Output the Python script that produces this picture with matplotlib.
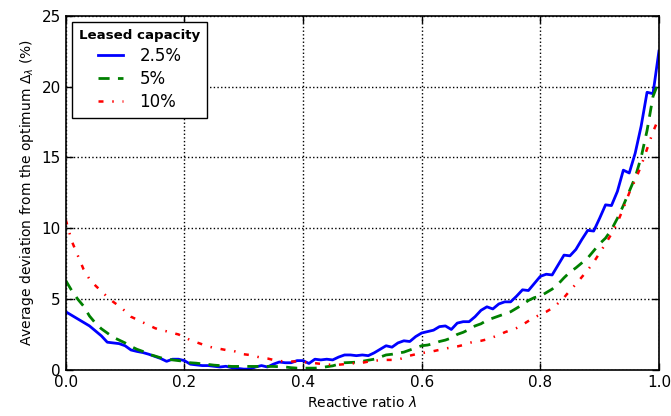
import numpy as np
import matplotlib
matplotlib.use('Agg')
import matplotlib.pyplot as plt

# reactive ratio, sampled every 0.01
ratio = np.linspace(0.0, 1.0, 101)

# average deviation from the optimum (%) per leased capacity
dev_2_5 = [4.1, 3.85, 3.6, 3.35, 3.1, 2.75, 2.4, 1.95, 1.9, 1.85,
           1.7, 1.4, 1.3, 1.22, 1.1, 0.95, 0.8, 0.6, 0.75, 0.75,
           0.65, 0.4, 0.35, 0.3, 0.3, 0.25, 0.2, 0.25, 0.15, 0.1,
           0.05, 0.05, 0.2, 0.3, 0.2, 0.4, 0.55, 0.5, 0.5, 0.65,
           0.65, 0.45, 0.75, 0.7, 0.75, 0.7, 0.9, 1.05, 1.05, 1.0,
           1.05, 1.0, 1.2, 1.45, 1.7, 1.6, 1.9, 2.05, 2.0, 2.35,
           2.6, 2.7, 2.8, 3.05, 3.1, 2.85, 3.3, 3.4, 3.4, 3.75,
           4.2, 4.45, 4.3, 4.65, 4.8, 4.8, 5.2, 5.65, 5.6, 6.1,
           6.6, 6.75, 6.7, 7.4, 8.1, 8.05, 8.5, 9.2, 9.85, 9.8,
           10.7, 11.65, 11.6, 12.6, 14.1, 13.9, 15.3, 17.2, 19.6, 19.5,
           22.5]
dev_5 = [6.3, 5.6, 5.0, 4.5, 3.8, 3.3, 2.9, 2.6, 2.3, 2.1,
         1.9, 1.65, 1.45, 1.3, 1.1, 0.98, 0.85, 0.75, 0.7, 0.65,
         0.6, 0.5, 0.47, 0.42, 0.38, 0.33, 0.3, 0.27, 0.24, 0.24,
         0.24, 0.24, 0.24, 0.24, 0.24, 0.24, 0.22, 0.2, 0.15, 0.12,
         0.12, 0.12, 0.12, 0.15, 0.22, 0.28, 0.4, 0.5, 0.52, 0.54,
         0.6, 0.68, 0.75, 0.9, 1.05, 1.1, 1.18, 1.25, 1.4, 1.55,
         1.7, 1.75, 1.85, 2.0, 2.1, 2.25, 2.5, 2.65, 2.85, 3.1,
         3.25, 3.5, 3.65, 3.8, 3.95, 4.1, 4.35, 4.6, 4.9, 5.1,
         5.2, 5.45, 5.7, 6.05, 6.5, 6.9, 7.2, 7.55, 7.9, 8.4,
         8.9, 9.3, 9.9, 10.7, 11.6, 12.6, 13.6, 15.0, 16.9, 19.3,
         20.4]
dev_10 = [10.6, 9.1, 8.1, 7.1, 6.4, 5.95, 5.55, 5.15, 4.8, 4.5,
          4.15, 3.75, 3.55, 3.35, 3.15, 2.95, 2.8, 2.72, 2.6, 2.5,
          2.3, 2.1, 1.95, 1.8, 1.65, 1.55, 1.48, 1.4, 1.36, 1.25,
          1.1, 1.05, 0.95, 0.85, 0.8, 0.7, 0.62, 0.6, 0.59, 0.59,
          0.55, 0.5, 0.47, 0.42, 0.38, 0.35, 0.36, 0.4, 0.45, 0.47,
          0.5, 0.58, 0.64, 0.68, 0.7, 0.7, 0.72, 0.85, 1.0, 1.1,
          1.18, 1.25, 1.32, 1.41, 1.5, 1.58, 1.65, 1.75, 1.9, 2.0,
          2.05, 2.15, 2.3, 2.45, 2.65, 2.8, 2.95, 3.18, 3.45, 3.7,
          3.9, 4.1, 4.35, 4.7, 5.1, 5.6, 6.05, 6.55, 7.05, 7.6,
          8.25, 8.9, 9.6, 10.4, 11.4, 12.5, 13.4, 14.4, 15.6, 16.8,
          17.8]

labels = ['2.5%', '5%', '10%']

fig = plt.figure(figsize=(6.71, 4.16), dpi=100)
ax = fig.add_axes([0.098, 0.111, 0.884, 0.851])

ax.plot(ratio, dev_2_5, color='b', lw=2, ls='-', label=labels[0])
ax.plot(ratio, dev_5, color='g', lw=2, ls='--', dashes=(4, 3), label=labels[1])
ax.plot(ratio, dev_10, color='r', lw=1.8, ls='-.', dashes=(2, 3.5, 0.6, 3.5), label=labels[2])

ax.set_xlim(0, 1)
ax.set_ylim(0, 25)
ax.set_xticks([0.0, 0.2, 0.4, 0.6, 0.8, 1.0])
ax.set_yticks([0, 5, 10, 15, 20, 25])

ax.grid(True, color='k', ls=':', lw=1)
ax.tick_params(direction='in', top=True, right=True, length=5, width=1, labelsize=11)
for sp in ax.spines.values():
    sp.set_linewidth(1.2)

ax.set_xlabel(r'Reactive ratio $\lambda$', fontsize=10)
ax.set_ylabel(r'Average deviation from the optimum $\Delta_\lambda$ (%)', fontsize=10)

leg = ax.legend(loc='upper left', title='Leased capacity', fontsize=12,
                handlelength=1.5, handletextpad=1.0, labelspacing=0.3,
                fancybox=False, framealpha=1, edgecolor='k',
                borderaxespad=0.4, borderpad=0.4)
leg.get_title().set_fontweight('bold')
leg.get_title().set_fontsize(9.6)
leg.get_frame().set_linewidth(1)

fig.savefig('out.png', dpi=100)
